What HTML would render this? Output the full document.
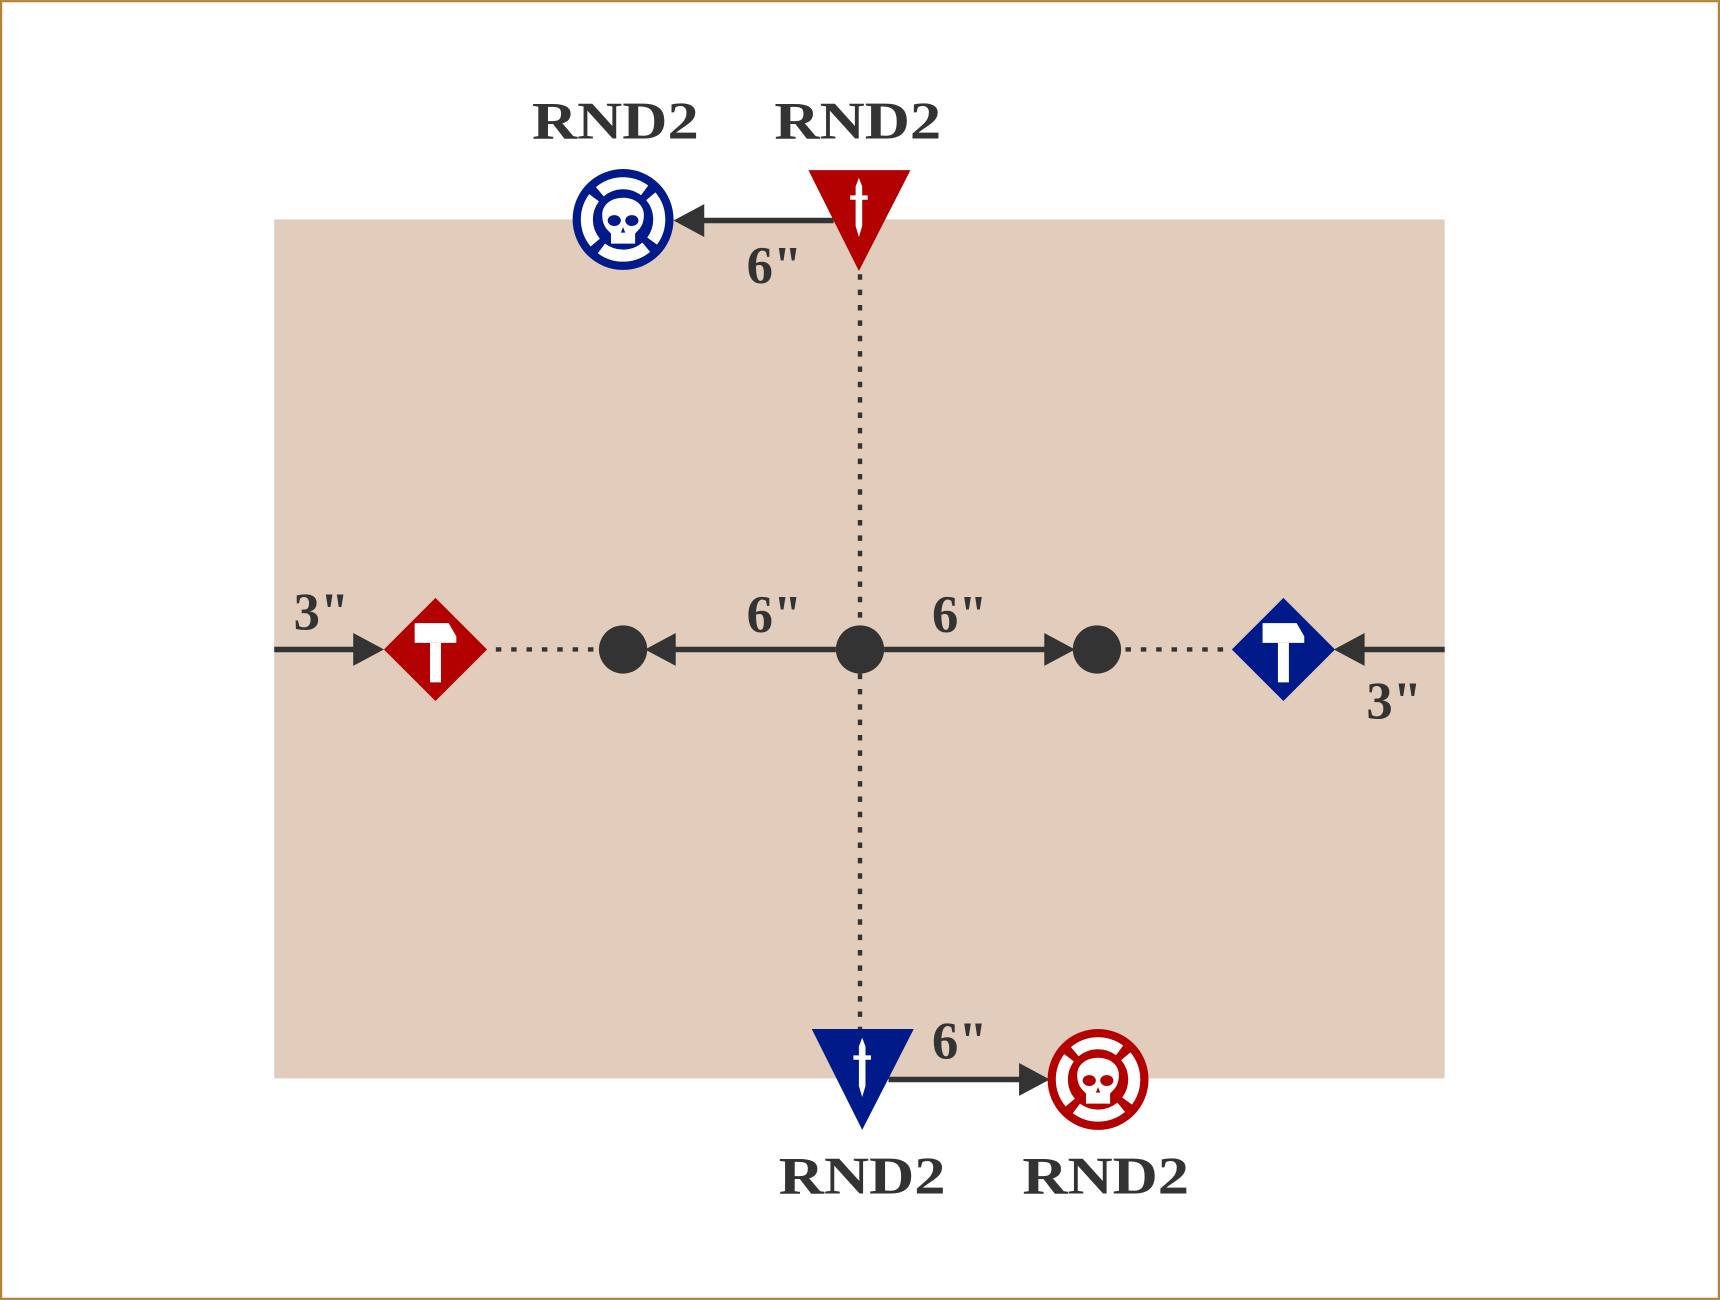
<!DOCTYPE html>
<html><head><meta charset="utf-8"><style>
html,body{margin:0;padding:0;background:#fff;}
svg{display:block;}
text{font-family:"Liberation Serif",serif;font-weight:bold;fill:#333;}
</style></head><body>
<svg width="1720" height="1300" viewBox="0 0 1568 1185" xmlns="http://www.w3.org/2000/svg">
<defs>
<g id="skull">
  <circle r="46" fill="currentColor"/>
  <circle r="33" fill="none" stroke="#fff" stroke-width="11" stroke-dasharray="44 7.8" transform="rotate(-130)"/>
  <path d="M-19,-4 C-19,-25 19,-25 19,-4 C19,7 13,10 11,13 L11,22 L-11,22 L-11,13 C-13,10 -19,7 -19,-4 Z" fill="#fff"/>
  <ellipse cx="-8" cy="1" rx="6" ry="5" fill="currentColor"/>
  <ellipse cx="8" cy="1" rx="6" ry="5" fill="currentColor"/>
  <path d="M0,7 L-2,12 L2,12 Z" fill="currentColor"/>
</g>
<g id="hammer">
  <path d="M-19,-24 L12,-24 L19,-12 L19,-6 L-19,-6 Z" fill="#fff"/>
  <rect x="-5" y="-6" width="10" height="36" fill="#fff"/>
</g>
<g id="dagger">
  <path d="M0,-36 L3,-28 L3,-20 L8,-20 L8,-16 L3,-16 L3,8 L0,18 L-3,8 L-3,-16 L-8,-16 L-8,-20 L-3,-20 L-3,-28 Z" fill="#fff"/>
</g>
</defs>
<rect x="1" y="1" width="1566" height="1183" fill="#fff" stroke="#b5823a" stroke-width="2"/>
<rect x="250" y="200" width="1067" height="783" fill="#e2ccbc"/>

<g stroke="#333" stroke-width="4" stroke-dasharray="5 9" fill="none">
  <line x1="784" y1="250" x2="784" y2="940"/>
  <line x1="452" y1="592" x2="546" y2="592"/>
  <line x1="1026" y1="592" x2="1122" y2="592"/>
</g>
<g stroke="#333" stroke-width="5">
  <line x1="250" y1="592" x2="325" y2="592"/>
  <line x1="762" y1="592" x2="612" y2="592"/>
  <line x1="806" y1="592" x2="955" y2="592"/>
  <line x1="1317" y1="592" x2="1240" y2="592"/>
  <line x1="760" y1="201" x2="638" y2="201"/>
  <line x1="810" y1="984" x2="932" y2="984"/>
</g>
<g fill="#333">
  <polygon points="350,592 322,577 322,607"/>
  <polygon points="588,592 616,577 616,607"/>
  <polygon points="980,592 952,577 952,607"/>
  <polygon points="1216,592 1244,577 1244,607"/>
  <polygon points="614,201 642,186 642,216"/>
  <polygon points="957,984 929,969 929,999"/>
</g>
<g fill="#333">
  <circle cx="784" cy="592" r="22"/>
  <circle cx="568" cy="592" r="22"/>
  <circle cx="1000" cy="592" r="22"/>
</g>
<polygon points="397,545 444,592 397,639 350,592" fill="#b30000"/>
<use href="#hammer" x="397" y="592"/>
<polygon points="1170,545 1217,592 1170,639 1123,592" fill="#001a8a"/>
<use href="#hammer" x="1170" y="592"/>
<polygon points="737,155 830,155 783,247" fill="#b30000"/>
<use href="#dagger" x="783" y="198"/>
<polygon points="740,938 833,938 786,1030" fill="#001a8a"/>
<use href="#dagger" x="786" y="982"/>
<use href="#skull" x="568" y="200" style="color:#001a8a"/>
<use href="#skull" x="1001" y="984" style="color:#b30000"/>
<g font-size="48" text-anchor="middle">
  <text x="561" y="126" textLength="152" lengthAdjust="spacingAndGlyphs">RND2</text>
  <text x="782" y="126" textLength="152" lengthAdjust="spacingAndGlyphs">RND2</text>
  <text x="786" y="1088" textLength="152" lengthAdjust="spacingAndGlyphs">RND2</text>
  <text x="1008" y="1088" textLength="152" lengthAdjust="spacingAndGlyphs">RND2</text>
  <text x="706" y="258">6"</text>
  <text x="706" y="576">6"</text>
  <text x="875" y="576">6"</text>
  <text x="875" y="965">6"</text>
  <text x="293" y="574">3"</text>
  <text x="1271" y="655">3"</text>
</g>
</svg>
</body></html>
